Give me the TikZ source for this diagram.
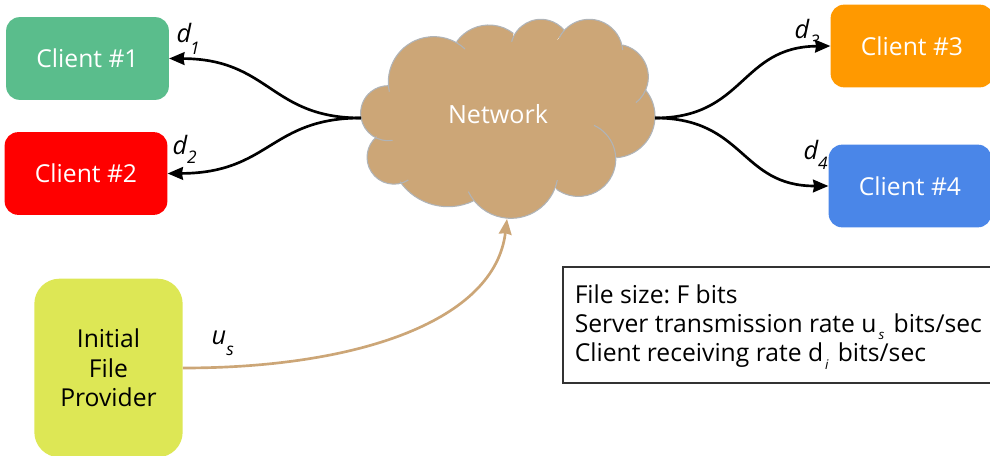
\documentclass[tikz,border=0pt]{standalone}
\usepackage{fontspec}
\setmainfont{Open Sans}
\usetikzlibrary{arrows.meta}
\definecolor{cloudfill}{HTML}{CCA677}
\definecolor{cloudline}{HTML}{B0B4B8}
\definecolor{cgreen}{HTML}{5ABD8C}
\definecolor{cred}{HTML}{FF0000}
\definecolor{corange}{HTML}{FF9900}
\definecolor{cblue}{HTML}{4A86E8}
\definecolor{cyellow}{HTML}{DDE755}
\newcommand{\bigf}{\fontsize{18.5}{22}\selectfont}
\newcommand{\boxsub}[1]{\kern1.5pt\raisebox{-5.3pt}{\fontsize{10}{12}\selectfont\itshape #1}\kern7pt}
% circular lobe through three points, clockwise on screen
\newcommand{\lobearc}[8]{%
  \pgfmathsetmacro{\ax}{#1/100}\pgfmathsetmacro{\ay}{#2/100}%
  \pgfmathsetmacro{\bx}{#3/100}\pgfmathsetmacro{\by}{#4/100}%
  \pgfmathsetmacro{\cx}{#5/100}\pgfmathsetmacro{\cy}{#6/100}%
  \pgfmathsetmacro{\dd}{2*(\ax*(\by-\cy)+\bx*(\cy-\ay)+\cx*(\ay-\by))}%
  \pgfmathsetmacro{\ux}{((\ax*\ax+\ay*\ay)*(\by-\cy)+(\bx*\bx+\by*\by)*(\cy-\ay)+(\cx*\cx+\cy*\cy)*(\ay-\by))/\dd}%
  \pgfmathsetmacro{\uy}{((\ax*\ax+\ay*\ay)*(\cx-\bx)+(\bx*\bx+\by*\by)*(\ax-\cx)+(\cx*\cx+\cy*\cy)*(\bx-\ax))/\dd}%
  \pgfmathsetmacro{\rr}{veclen(\ax-\ux,\ay-\uy)}%
  \pgfmathsetmacro{\sa}{atan2(\ay-\uy,\ax-\ux)}%
  \pgfmathsetmacro{\ea}{atan2(\cy-\uy,\cx-\ux)}%
  \pgfmathsetmacro{\ea}{\ea<\sa ? \ea+360 : \ea}%
  \path[#7] (\ax,\ay) arc[start angle=\sa,end angle=\ea,radius=\rr] #8;%
}
\tikzset{
  x=0.75pt,y=-0.75pt,
  clientbox/.style={rounded corners=10pt,minimum width=122pt,minimum height=62pt,inner sep=0pt,text=white,font=\bigf},
  conn/.style={line width=2pt,-{Stealth[length=11.5pt,width=9.5pt,inset=0.8pt]}},
  upconn/.style={line width=2pt,color=cloudfill,-{Stealth[length=11.5pt,width=9.5pt,inset=0.8pt]}},
  lab/.style={font=\fontsize{19}{22}\selectfont\itshape,inner sep=0pt},
  subl/.style={font=\fontsize{13}{15}\selectfont\itshape,inner sep=0pt},
  lobe/.style={draw=cloudline,line width=0.8pt},
  lobefill/.style={fill=cloudfill},
}
\newcommand{\alllobes}[2]{%
  \lobearc{158}{421}{62}{335}{145}{257}{#1}{#2}%
  \lobearc{148}{275}{275}{110}{375}{147}{#1}{#2}%
  \lobearc{350}{125}{445}{75}{520}{100}{#1}{#2}%
  \lobearc{515}{125}{600}{58}{672}{90}{#1}{#2}%
  \lobearc{658}{113}{750}{58}{848}{150}{#1}{#2}%
  \lobearc{848}{135}{925}{230}{888}{308}{#1}{#2}%
  \lobearc{915}{268}{945}{350}{830}{473}{#1}{#2}%
  \lobearc{762}{376}{827}{470}{650}{568}{#1}{#2}%
  \lobearc{652}{540}{510}{655}{385}{575}{#1}{#2}%
  \lobearc{400}{603}{320}{620}{180}{545}{#1}{#2}%
  \lobearc{205}{540}{82}{460}{110}{410}{#1}{#2}%
}
\begin{document}
\begin{tikzpicture}
\useasboundingbox (0,0) rectangle (990,456);
% cloud
\begin{scope}[shift={(340,0)},x=25pt,y=-25pt]
\alllobes{lobefill}{-- (5,3.4) -- cycle}
\fill[cloudfill] (1.6,2.8) -- (3.6,1.45) -- (5.2,1.25) -- (6.6,1.2) -- (8.4,1.6) -- (8.9,2.7) -- (8.1,4.6) -- (6.4,5.5) -- (4.0,5.7) -- (2.0,5.3) -- (1.3,4.1) -- cycle;
\alllobes{lobe}{}
\end{scope}
\node[text=white,font=\fontsize{18.8}{22}\selectfont,inner sep=0pt] (net) at (498,114) {Network};
\coordinate (netw) at (361,118);
\coordinate (nete) at (655,118);
\coordinate (nets) at (507,219);
% boxes
\node[clientbox,fill=cgreen] (c1) at (87.5,58.5) {Client \#1};
\node[clientbox,fill=cred] (c2) at (86,173.5) {Client \#2};
\node[clientbox,fill=corange] (c3) at (912,46) {\raisebox{-1pt}{Client \#3}};
\node[clientbox,fill=cblue] (c4) at (910,186) {Client \#4};
\node[rounded corners=19pt,fill=cyellow,minimum width=111.3pt,minimum height=134pt,inner sep=0pt,align=center,font=\bigf] (prov) at (108.5,368) {Initial\\File\\Provider};
\node[draw=black!80,line width=0.8pt,minimum width=321pt,minimum height=87pt,inner sep=0pt] (info) at (777,325) {};
\node[anchor=west,inner sep=0pt,align=left,font=\bigf\frenchspacing] (infot) at (574.5,326.8) {File size: F bits\\Server transmission rate u\boxsub{s} bits/sec\\Client receiving rate d\boxsub{i} bits/sec};
% connectors
\draw[conn] (netw) .. controls (270,118) and (270,59) .. (c1.east);
\draw[conn] (netw) .. controls (270,118) and (270,173) .. (c2.east);
\draw[conn] (nete) .. controls (745,118) and (740,47) .. (c3.west);
\draw[conn] (nete) .. controls (745,118) and (740,186) .. (c4.west);
\draw[upconn] (prov.east) .. controls (360,368) and (495,320) .. (nets);
% labels
\node[lab] (d1) at (184,33) {d};
\node[subl] (s1) at (195,48) {1};
\node[lab] (d2) at (180,145) {d};
\node[subl] (s2) at (192,157) {2};
\node[lab] (d3) at (802,29) {d};
\node[subl] (s3) at (815,41) {3};
\node[lab] (d4) at (811,150) {d};
\node[subl] (s4) at (823,163) {4};
\node[lab] (u) at (219,338) {u};
\node[subl] (us) at (230,351) {s};
\end{tikzpicture}
\end{document}
